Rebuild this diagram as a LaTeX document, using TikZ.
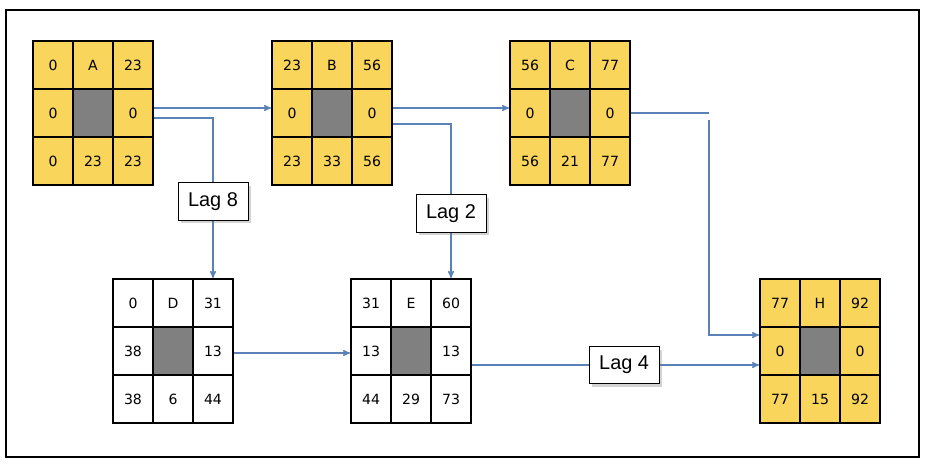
\documentclass[tikz,border=0pt]{standalone}
\usepackage{fontspec}
\setmainfont{DejaVu Sans}
\newfontfamily\lagfont{Liberation Sans}
\usetikzlibrary{arrows,shadows}
\definecolor{critical}{HTML}{F9D55B}
\definecolor{slackgray}{HTML}{808080}
\definecolor{linkblue}{HTML}{5A82B8}

\tikzset{
  cell/.style={draw=black,line width=1.6pt,minimum width=1.2cm,minimum height=1.44cm,
    inner sep=0pt,font=\fontsize{12}{14}\selectfont},
  link/.style={->,>=stealth',draw=linkblue,line width=1.1pt},
  lag/.style={draw=black,fill=white,line width=0.6pt,drop shadow={opacity=0.35},
    minimum width=2.1cm,minimum height=1.12cm,inner sep=2pt,
    font=\lagfont\fontsize{17}{19}\selectfont,text=black}
}

% name, left, top, fill, nine values
\newcommand\actbox[5]{%
  \foreach \v [count=\k from 0, evaluate=\k as \c using {int(mod(\k,3))},
      evaluate=\k as \r using {int(\k/3)}] in {#5}
    \node[cell,fill=#4] (#1-\k) at ({#2+40*\c+20},{#3+48*\r+24}) {\v};
  \node[cell,fill=slackgray] (#1-c) at (#1-4) {};
}

\begin{document}
\begin{tikzpicture}[x=0.03cm,y=-0.03cm]

    \useasboundingbox (0,0) rectangle (928,469);
    \draw[line width=2pt] (6,10) rectangle (919,457);

    \actbox{A}{33}{41}{critical}{0,A,23,0,,0,0,23,23}
    \actbox{B}{272}{41}{critical}{23,B,56,0,,0,23,33,56}
    \actbox{C}{510}{41}{critical}{56,C,77,0,,0,56,21,77}
    \actbox{D}{113}{279}{white}{0,D,31,38,,13,38,6,44}
    \actbox{E}{351}{279}{white}{31,E,60,13,,13,44,29,73}
    \actbox{H}{760}{279}{critical}{77,H,92,0,,0,77,15,92}

    \coordinate (cout) at (709,113);
    \coordinate (cdown) at (709,120);

    \draw[link] ([yshift=0.15cm]A-5.east) -- ([yshift=0.15cm]B-3.west);
    \draw[link] ([yshift=-0.15cm]A-5.east) -| node[lag,pos=0.76] {Lag 8} (D-2.north);
    \draw[link] ([yshift=0.15cm]B-5.east) -- ([yshift=0.15cm]C-3.west);
    \draw[link] ([yshift=-0.33cm]B-5.east) -| node[lag,pos=0.79] {Lag 2} (E-2.north);
    \draw[link,-] (C-5.east) -- (cout);
    \draw[link] (cdown) |- ([yshift=0.48cm]H-3.west);
    \draw[link] ([yshift=-0.06cm]D-5.east) -- ([yshift=-0.06cm]E-3.west);
    \draw[link] ([yshift=-0.42cm]E-5.east) -- node[lag,pos=0.53] {Lag 4} ([yshift=-0.42cm]H-3.west);

\end{tikzpicture}
\end{document}
